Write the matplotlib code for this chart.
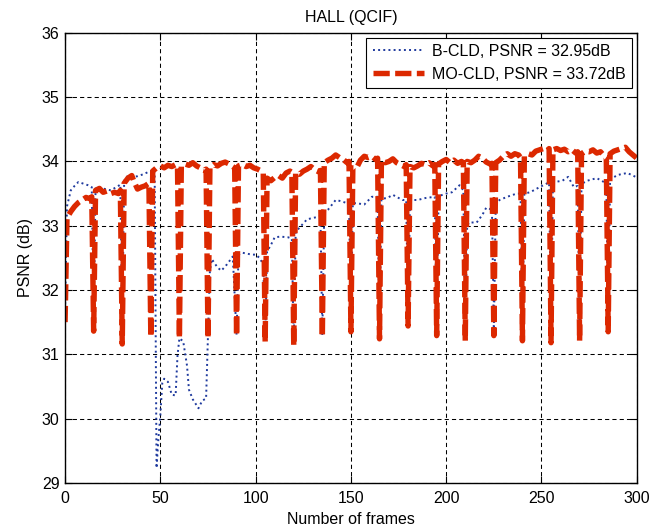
import numpy as np
import matplotlib
matplotlib.use("Agg")
import matplotlib.pyplot as plt

plt.rcParams['font.family'] = ['Liberation Sans', 'DejaVu Sans']

# B-CLD (blue dotted), frame -> PSNR
b_frames = [0, 1, 3, 5, 7, 10, 12, 14, 15, 16, 18, 21, 24, 28, 29, 30, 31, 33, 36, 38,
            41, 44, 45, 47, 48, 49, 50, 51, 52, 54, 56, 58, 59, 60, 62, 64, 65, 67, 70, 72,
            74, 75, 76, 77, 80, 82, 85, 88, 90, 91, 93, 98, 100, 102, 104, 105, 106, 108, 110, 113,
            117, 119, 120, 121, 123, 127, 130, 133, 134, 135, 136, 138, 142, 145, 148, 149, 150, 151, 153, 157,
            161, 164, 165, 166, 169, 172, 177, 179, 180, 181, 185, 189, 194, 195, 196, 200, 203, 207, 209, 210,
            211, 212, 216, 219, 221, 224, 225, 226, 228, 232, 237, 239, 240, 241, 244, 249, 253, 254, 255, 256,
            257, 261, 264, 267, 269, 270, 271, 274, 279, 284, 285, 286, 290, 295, 298, 300]
b_psnr = [31.7, 33.3, 33.55, 33.62, 33.68, 33.65, 33.63, 33.6, 31.5, 33.58, 33.6, 33.57, 33.55, 33.62, 33.64, 31.4, 33.7, 33.78, 33.76, 33.77,
          33.8, 33.84, 33.85, 33.87, 29.23, 29.7, 30.05, 30.55, 30.62, 30.57, 30.37, 30.36, 30.98, 31.25, 31.2, 30.82, 30.45, 30.3, 30.16, 30.28,
          30.31, 31.3, 32.3, 32.48, 32.35, 32.3, 32.4, 32.52, 31.3, 32.55, 32.58, 32.55, 32.55, 32.5, 32.4, 31.2, 32.6, 32.7, 32.82, 32.83,
          32.82, 32.8, 31.15, 32.9, 32.97, 33.1, 33.12, 33.14, 33.15, 31.3, 33.2, 33.25, 33.4, 33.38, 33.35, 33.35, 31.4, 33.35, 33.35, 33.33,
          33.45, 33.45, 31.3, 33.42, 33.43, 33.48, 33.4, 33.4, 31.5, 33.4, 33.4, 33.43, 33.45, 31.35, 33.46, 33.5, 33.52, 33.63, 33.55, 31.3,
          33.0, 33.05, 33.05, 33.17, 33.28, 33.25, 31.35, 33.35, 33.4, 33.45, 33.5, 33.5, 31.3, 33.5, 33.52, 33.6, 33.66, 33.67, 31.25, 33.67,
          33.68, 33.7, 33.76, 33.6, 33.62, 31.3, 33.65, 33.7, 33.74, 33.66, 31.4, 33.72, 33.79, 33.82, 33.78, 33.75]

# MO-CLD (red dashed), dips at every 15th frame
m_frames = [0, 1, 3, 5, 7, 9, 11, 13, 14,
            15, 16, 18, 20, 22, 24, 26, 28, 29,
            30, 31, 33, 35, 36, 38, 40, 42, 44,
            45, 46, 48, 50, 52, 54, 56, 58, 59,
            60, 61, 63, 65, 67, 69, 71, 73, 74,
            75, 76, 78, 80, 82, 84, 86, 88, 89,
            90, 91, 93, 95, 97, 99, 101, 103, 104,
            105, 106, 108, 110, 112, 114, 116, 118, 119,
            120, 121, 123, 125, 127, 129, 131, 133, 134,
            135, 136, 138, 140, 142, 144, 146, 148, 149,
            150, 151, 153, 155, 157, 159, 161, 163, 164,
            165, 166, 168, 170, 172, 174, 176, 178, 179,
            180, 181, 183, 185, 187, 189, 191, 193, 194,
            195, 196, 198, 200, 202, 204, 206, 208, 209,
            210, 211, 213, 215, 217, 219, 221, 223, 224,
            225, 226, 228, 230, 232, 234, 236, 238, 239,
            240, 241, 243, 245, 247, 249, 251, 253, 254,
            255, 256, 258, 260, 262, 264, 266, 268, 269,
            270, 271, 273, 275, 277, 279, 281, 283, 284,
            285, 286, 288, 290, 292, 294, 296, 298, 300]
m_psnr = [31.5, 33.12, 33.22, 33.3, 33.36, 33.4, 33.44, 33.42, 33.45,
          31.36, 33.55, 33.58, 33.52, 33.54, 33.5, 33.52, 33.5, 33.55,
          31.16, 33.66, 33.74, 33.78, 33.7, 33.57, 33.6, 33.62, 33.66,
          31.27, 33.85, 33.9, 33.93, 33.9, 33.94, 33.92, 33.95, 33.93,
          31.25, 33.92, 33.96, 33.94, 33.98, 33.93, 33.9, 33.86, 33.88,
          31.25, 33.9, 33.95, 33.93, 33.97, 33.99, 33.96, 33.92, 33.9,
          31.29, 33.93, 33.95, 33.92, 33.94, 33.9, 33.88, 33.85, 33.82,
          31.19, 33.74, 33.7, 33.75, 33.78, 33.74, 33.82, 33.85, 33.83,
          31.13, 33.83, 33.8, 33.85, 33.88, 33.92, 33.87, 33.84, 33.86,
          31.27, 33.98, 34.02, 34.05, 34.1, 34.06, 34.03, 33.98, 34.0,
          31.35, 33.9, 33.9, 34.02, 34.08, 34.06, 34.08, 34.03, 34.05,
          31.24, 34.02, 33.98, 34.0, 34.04, 33.98, 33.95, 33.92, 33.95,
          31.44, 33.92, 33.9, 33.93, 33.97, 33.95, 33.98, 33.93, 33.95,
          31.29, 33.96, 34.0, 34.03, 33.98, 34.02, 33.97, 34.0, 33.98,
          31.21, 34.0, 33.98, 34.02, 34.08, 34.05, 33.99, 33.96, 33.97,
          31.29, 33.98, 34.02, 34.08, 34.12, 34.08, 34.12, 34.1, 34.06,
          31.21, 34.08, 34.12, 34.1, 34.16, 34.18, 34.2, 34.17, 34.2,
          31.18, 34.18, 34.2, 34.17, 34.19, 34.15, 34.18, 34.13, 34.15,
          31.21, 34.12, 34.16, 34.15, 34.18, 34.13, 34.15, 34.08, 34.06,
          31.35, 34.12, 34.16, 34.18, 34.2, 34.22, 34.15, 34.1, 34.05]

b_label = 'B-CLD, PSNR = 32.95dB'
m_label = 'MO-CLD, PSNR = 33.72dB'

fig = plt.figure(figsize=(6.64, 5.30), dpi=100)
ax = fig.add_axes([0.098, 0.089, 0.861, 0.849])

ax.plot(b_frames, b_psnr, color='#1f3a9e', linestyle=':', linewidth=1.4, label=b_label)
ax.plot(m_frames, m_psnr, color='#dc2800', linestyle=(0, (3.0, 1.0)), linewidth=3.9,
        dash_capstyle='butt', label=m_label)

ax.set_xlim(0, 300)
ax.set_ylim(29, 36)
ax.set_xticks(np.arange(0, 301, 50))
ax.set_yticks(np.arange(29, 37, 1))
ax.tick_params(direction='in', top=True, right=True, length=5, width=0.8, labelsize=11.5)
ax.tick_params(axis='x', pad=6)
ax.tick_params(axis='y', pad=4)
ax.grid(True, color='black', linestyle=(0, (4, 3)), linewidth=0.75)
for s in ax.spines.values():
    s.set_linewidth(1.0)

ax.set_title('HALL (QCIF)', fontsize=11.5, pad=8)
ax.set_xlabel('Number of frames', fontsize=11.5, labelpad=4)
ax.set_ylabel('PSNR (dB)', fontsize=11.5, labelpad=6)

leg = ax.legend(loc='upper right', fontsize=11.5, fancybox=False, framealpha=1,
                edgecolor='black', handlelength=3.2, borderaxespad=0.3, handletextpad=0.5)
leg.get_frame().set_linewidth(0.8)

fig.savefig('out.png', dpi=100)
